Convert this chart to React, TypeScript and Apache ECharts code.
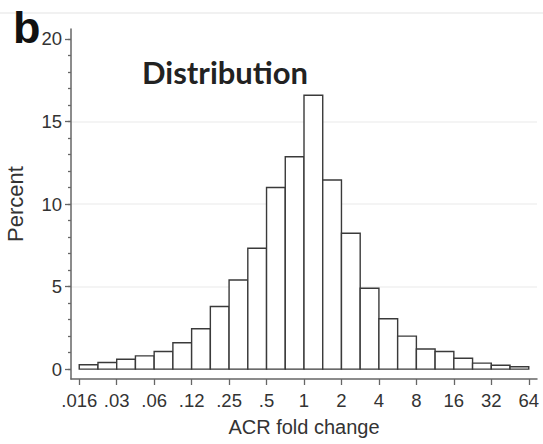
import React, { useEffect, useRef } from "react";
import * as echarts from "echarts";

// Histogram bins: lower and upper edges in log2(fold change)
const binLowerLog2 = [-6, -5.5, -5, -4.5, -4, -3.5, -3, -2.5, -2, -1.5, -1, -0.5, 0, 0.5, 1, 1.5, 2, 2.5, 3, 3.5, 4, 4.5, 5, 5.5];
const binUpperLog2 = [-5.5, -5, -4.5, -4, -3.5, -3, -2.5, -2, -1.5, -1, -0.5, 0, 0.5, 1, 1.5, 2, 2.5, 3, 3.5, 4, 4.5, 5, 5.5, 6];
// Percent in each bin
const percentValues = [0.26, 0.4, 0.6, 0.8, 1.07, 1.6, 2.44, 3.79, 5.4, 7.32, 11.0, 12.86, 16.59, 11.45, 8.23, 4.9, 3.05, 2.0, 1.22, 1.07, 0.66, 0.36, 0.23, 0.14];

// X ticks (log2 positions) and their labels
const xTickValues = [-6, -5, -4, -3, -2, -1, 0, 1, 2, 3, 4, 5, 6];
const xTickLabels = [".016", ".03", ".06", ".12", ".25", ".5", "1", "2", "4", "8", "16", "32", "64"];

// Y ticks
const yMajorTicks = [0, 5, 10, 15, 20];
const yMinorTicks = [0, 1, 2, 3, 4, 5, 6, 7, 8, 9, 10, 11, 12, 13, 14, 15, 16, 17, 18, 19, 20];
const yGridValues = [5, 10, 15];

const X_MIN = -6.22;
const X_MAX = 6.22;
const Y_MIN = -0.6;
const Y_MAX = 20.6;

const AXIS_COLOR = "#666";
const TEXT_COLOR = "#333";
const LABEL_FONT = "Liberation Sans";

export default function App() {
  const ref = useRef<HTMLDivElement>(null);

  useEffect(() => {
    if (!ref.current) return;
    const chart = echarts.init(ref.current, null, { renderer: "svg" });

    const data = percentValues.map((v, i) => [binLowerLog2[i], binUpperLog2[i], v]);

    const yBase = {
      type: "value",
      min: Y_MIN,
      max: Y_MAX,
      position: "left",
      offset: 0,
    };

    const option: any = {
      animation: false,
      backgroundColor: "#fff",
      grid: { left: 71, right: 6, top: 29, bottom: 65, containLabel: false, outerBoundsMode: "none" },
      graphic: [
        {
          type: "line",
          shape: { x1: 0, y1: 13, x2: 543, y2: 13 },
          style: { stroke: "#ececec", lineWidth: 1.5 },
          silent: true,
        },
        {
          type: "text",
          x: 13,
          y: 27,
          style: {
            text: "b",
            fontSize: 45,
            fontWeight: "bold",
            fontFamily: "Liberation Sans",
            fill: "#111",
            align: "left",
            verticalAlign: "middle",
          },
        },
        {
          type: "text",
          x: 142,
          y: 72,
          style: {
            text: "Distribution",
            fontSize: 31,
            fontWeight: "bold",
            fontFamily: "Lato",
            fill: "#222",
            align: "left",
            verticalAlign: "middle",
          },
        },
      ],
      xAxis: {
        type: "value",
        min: X_MIN,
        max: X_MAX,
        name: "ACR fold change",
        nameLocation: "middle",
        nameGap: 38,
        nameTextStyle: { fontSize: 20, color: TEXT_COLOR, fontFamily: LABEL_FONT },
        axisLine: { show: true, onZero: false, lineStyle: { color: AXIS_COLOR, width: 1.5 } },
        axisTick: { show: true, customValues: xTickValues, length: 6, lineStyle: { color: AXIS_COLOR, width: 1.3 } },
        axisLabel: {
          customValues: xTickValues,
          margin: 12,
          fontSize: 18.5,
          color: TEXT_COLOR,
          fontFamily: LABEL_FONT,
          formatter: (v: number) => {
            const idx = xTickValues.indexOf(Math.round(v));
            return idx >= 0 ? xTickLabels[idx] : "";
          },
        },
        splitLine: { show: false },
      },
      yAxis: [
        {
          ...yBase,
          axisLine: { show: true, onZero: false, lineStyle: { color: AXIS_COLOR, width: 1.5 } },
          axisTick: { show: true, customValues: yMinorTicks, length: 3, lineStyle: { color: AXIS_COLOR, width: 1.3 } },
          axisLabel: { show: false },
          splitLine: { show: false },
        },
        {
          ...yBase,
          name: "Percent",
          nameLocation: "middle",
          nameGap: 45,
          nameTextStyle: { fontSize: 22, color: TEXT_COLOR, fontFamily: LABEL_FONT },
          axisLine: { show: false, onZero: false },
          axisTick: { show: true, customValues: yMajorTicks, length: 6, lineStyle: { color: AXIS_COLOR, width: 1.3 } },
          axisLabel: {
            customValues: yMajorTicks,
            margin: 9,
            fontSize: 18.5,
            color: TEXT_COLOR,
            fontFamily: LABEL_FONT,
          },
          splitLine: { show: false },
        },
      ],
      series: [
        {
          type: "custom",
          xAxisIndex: 0,
          yAxisIndex: 0,
          z: 2,
          data,
          encode: { x: [0, 1], y: 2 },
          renderItem: (params: any, api: any) => {
            const p0 = api.coord([api.value(0), api.value(2)]);
            const p1 = api.coord([api.value(1), 0]);
            return {
              type: "rect",
              shape: { x: p0[0], y: p0[1], width: p1[0] - p0[0], height: p1[1] - p0[1] },
              style: { fill: "#fff", stroke: "#3a3a3a", lineWidth: 1.4 },
            };
          },
          markLine: {
            silent: true,
            z: 0,
            symbol: "none",
            label: { show: false },
            lineStyle: { color: "#f0f0f0", width: 1.5, type: "solid" },
            data: yGridValues.map((v) => ({ yAxis: v })),
          },
        },
      ],
    };

    chart.setOption(option);
    return () => chart.dispose();
  }, []);

  return (
    <div
      ref={ref}
      style={{ position: "fixed", left: 0, top: 0, width: 543, height: 444, background: "#fff" }}
    />
  );
}
